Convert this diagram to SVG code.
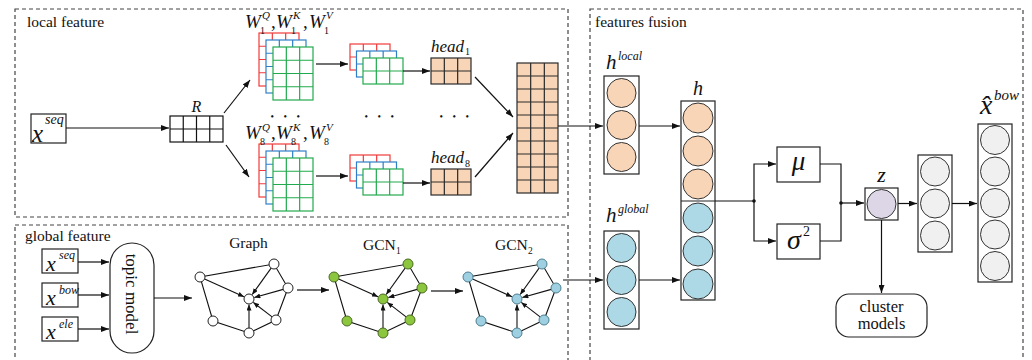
<svg xmlns="http://www.w3.org/2000/svg" xmlns:xlink="http://www.w3.org/1999/xlink" width="1032" height="360" viewBox="0 0 1032 360">
  <style>
    text { font-family: "Liberation Serif", "Times New Roman", serif; fill: #111; }
    .it { font-style: italic; }
    .panel { fill: none; stroke: #444; stroke-width: 1.2; stroke-dasharray: 4 3; }
    .box { fill: #fff; stroke: #222; stroke-width: 1.2; }
    .conn { fill: none; stroke: #111; stroke-width: 1.2; }
    .lr { fill: #fff; stroke: #f23a3a; stroke-width: 1.2; }
    .lb { fill: #fff; stroke: #2f7fc8; stroke-width: 1.2; }
    .lg { fill: #fff; stroke: #22aa4e; stroke-width: 1.2; }
    .peach { fill: #f8d5b6; stroke: #2a2a2a; stroke-width: 1.2; }
    .grid { fill: #fff; stroke: #111; stroke-width: 1.2; }
    .c-or { fill: #f9d5b7; stroke: #333; stroke-width: 1; }
    .c-bl { fill: #add8e6; stroke: #333; stroke-width: 1; }
    .c-gr { fill: #f0f0f0; stroke: #333; stroke-width: 1; }
    .c-z { fill: #dcd6e6; stroke: #333; stroke-width: 1; }
    .gedge { stroke: #111; stroke-width: 1.1; fill: none; }
    .n0 { fill: #fff; stroke: #222; stroke-width: 1; }
    .n1 { fill: #8cc63f; stroke: #4a6a22; stroke-width: 1; }
    .n2 { fill: #9fd0e2; stroke: #4b7e90; stroke-width: 1; }
    .dots { font-size: 10px; letter-spacing: 3.5px; }
  </style>
  <defs>
    <marker id="ah" viewBox="0 0 8 6" refX="8" refY="3" markerWidth="8" markerHeight="6" orient="auto" markerUnits="userSpaceOnUse">
      <path d="M0,0 L8,3 L0,6 z" fill="#111"/>
    </marker>
    <marker id="ahs" viewBox="0 0 6 5" refX="6" refY="2.5" markerWidth="6" markerHeight="5" orient="auto" markerUnits="userSpaceOnUse">
      <path d="M0,0 L6,2.5 L0,5 z" fill="#111"/>
    </marker>
    <!-- 3x4 weight layer -->
    <g id="g34">
      <rect width="40" height="53"/>
      <path fill="none" d="M13.33 0V53M26.67 0V53M0 13.25H40M0 26.5H40M0 39.75H40"/>
    </g>
    <!-- 3x2 layer -->
    <g id="g32">
      <rect width="40" height="26"/>
      <path fill="none" d="M13.33 0V26M26.67 0V26M0 13H40"/>
    </g>
    <!-- graph edges (shared by the three graphs) -->
    <g id="gedges">
      <path class="gedge" d="M200,277 L274,264 L288,288 L276,320 L249,333 L213,321 Z"/>
      <line class="gedge" x1="204.6" y1="279" x2="244" y2="296.7" marker-end="url(#ahs)"/>
      <line class="gedge" x1="271.1" y1="268.1" x2="252.2" y2="294.5" marker-end="url(#ahs)"/>
      <line class="gedge" x1="283.2" y1="289.4" x2="254.3" y2="297.5" marker-end="url(#ahs)"/>
      <line class="gedge" x1="272.1" y1="316.9" x2="253.3" y2="302.4" marker-end="url(#ahs)"/>
      <line class="gedge" x1="249" y1="328" x2="249" y2="304.5" marker-end="url(#ahs)"/>
    </g>
    <g id="gnodes">
      <circle cx="200" cy="277" r="5"/>
      <circle cx="274" cy="264" r="5"/>
      <circle cx="288" cy="288" r="5"/>
      <circle cx="249" cy="299" r="5"/>
      <circle cx="276" cy="320" r="5"/>
      <circle cx="249" cy="333" r="5"/>
      <circle cx="213" cy="321" r="5"/>
    </g>
  </defs>

  <rect width="1032" height="360" fill="#fff"/>

  <!-- panels -->
  <g id="panels">
    <rect class="panel" x="15" y="9" width="553" height="208"/>
    <rect class="panel" x="15" y="225" width="553" height="150"/>
    <rect class="panel" x="590" y="9" width="433" height="366"/>
    <text x="27" y="27" font-size="15.5">local feature</text>
    <text x="25" y="241" font-size="15.5">global feature</text>
    <text x="595" y="27" font-size="15.5">features fusion</text>
  </g>

  <!-- local feature branch -->
  <g id="x-seq-local">
    <rect class="box" x="31" y="114" width="35" height="29"/>
    <text class="it" x="32" y="142" font-size="25">x</text>
    <text class="it" x="45" y="124" font-size="14">seq</text>
  </g>
  <g id="embedding-R">
    <rect class="grid" x="170" y="116" width="53" height="26"/>
    <path fill="none" stroke="#111" stroke-width="1.2" d="M183.25 116V142M196.5 116V142M209.75 116V142M170 129H223"/>
    <text class="it" x="196.5" y="112" font-size="16" text-anchor="middle">R</text>
  </g>
  <g id="wqkv-1">
    <use xlink:href="#g34" class="lr" x="259" y="33"/>
    <use xlink:href="#g34" class="lb" x="266" y="40"/>
    <use xlink:href="#g34" class="lg" x="273" y="47"/>
    <text class="it" x="245" y="28" font-size="19">W</text>
    <text x="260" y="34" font-size="10">1</text>
    <text class="it" x="262" y="19" font-size="11">Q</text>
    <text x="271" y="28" font-size="19">,</text>
    <text class="it" x="276" y="28" font-size="19">W</text>
    <text x="291" y="34" font-size="10">1</text>
    <text class="it" x="293" y="19" font-size="11">K</text>
    <text x="303" y="28" font-size="19">,</text>
    <text class="it" x="309" y="28" font-size="19">W</text>
    <text x="324" y="34" font-size="10">1</text>
    <text class="it" x="326" y="19" font-size="11">V</text>
  </g>
  <g id="wqkv-8">
    <use xlink:href="#g34" class="lr" x="259" y="144"/>
    <use xlink:href="#g34" class="lb" x="266" y="151"/>
    <use xlink:href="#g34" class="lg" x="273" y="158"/>
    <text class="it" x="245" y="139" font-size="19">W</text>
    <text x="260" y="145" font-size="10">8</text>
    <text class="it" x="262" y="131" font-size="11">Q</text>
    <text x="271" y="139" font-size="19">,</text>
    <text class="it" x="276" y="139" font-size="19">W</text>
    <text x="291" y="145" font-size="10">8</text>
    <text class="it" x="293" y="131" font-size="11">K</text>
    <text x="303" y="139" font-size="19">,</text>
    <text class="it" x="309" y="139" font-size="19">W</text>
    <text x="324" y="145" font-size="10">8</text>
    <text class="it" x="326" y="131" font-size="11">V</text>
  </g>
  <g id="attn-1">
    <use xlink:href="#g32" class="lr" x="350" y="44"/>
    <use xlink:href="#g32" class="lb" x="356.5" y="51"/>
    <use xlink:href="#g32" class="lg" x="363" y="58"/>
  </g>
  <g id="attn-8">
    <use xlink:href="#g32" class="lr" x="350" y="155"/>
    <use xlink:href="#g32" class="lb" x="356.5" y="162"/>
    <use xlink:href="#g32" class="lg" x="363" y="169"/>
  </g>
  <g id="head-1">
    <use xlink:href="#g32" class="peach" x="431" y="58"/>
    <text class="it" x="431" y="52" font-size="17">head</text>
    <text x="465" y="55" font-size="10">1</text>
  </g>
  <g id="head-8">
    <use xlink:href="#g32" class="peach" x="431" y="169"/>
    <text class="it" x="431" y="163" font-size="17">head</text>
    <text x="465" y="167" font-size="10">8</text>
  </g>
  <g id="ellipses">
    <text class="dots" x="270.5" y="120">• • •</text>
    <text class="dots" x="364.5" y="120">• • •</text>
    <text class="dots" x="439.5" y="120">• • •</text>
  </g>
  <g id="concat">
    <rect class="peach" x="517" y="63" width="41" height="130"/>
    <path fill="none" stroke="#2a2a2a" stroke-width="1.2" d="M530.67 63V193M544.33 63V193M517 76H558M517 89H558M517 102H558M517 115H558M517 128H558M517 141H558M517 154H558M517 167H558M517 180H558"/>
  </g>

  <!-- global feature branch -->
  <g id="x-seq">
    <rect class="box" x="42" y="249" width="36" height="24"/>
    <text class="it" x="46" y="271" font-size="22">x</text>
    <text class="it" x="59" y="259" font-size="12">seq</text>
  </g>
  <g id="x-bow">
    <rect class="box" x="42" y="283" width="36" height="24"/>
    <text class="it" x="46" y="305" font-size="22">x</text>
    <text class="it" x="59" y="294" font-size="12">bow</text>
  </g>
  <g id="x-ele">
    <rect class="box" x="42" y="317" width="36" height="24"/>
    <text class="it" x="46" y="339" font-size="22">x</text>
    <text class="it" x="59" y="328" font-size="12">ele</text>
  </g>
  <g id="topic-model">
    <rect class="box" x="110" y="243" width="44" height="110" rx="22" ry="22"/>
    <text x="0" y="0" font-size="17" text-anchor="middle" transform="translate(126,294) rotate(90)">topic model</text>
  </g>
  <g id="graph">
    <use xlink:href="#gedges"/>
    <use xlink:href="#gnodes" class="n0"/>
    <text x="248.5" y="248" font-size="15.5" text-anchor="middle">Graph</text>
  </g>
  <g id="gcn-1">
    <use xlink:href="#gedges" x="134"/>
    <use xlink:href="#gnodes" class="n1" x="134"/>
    <text x="363" y="250" font-size="15.5">GCN</text>
    <text x="396" y="254" font-size="9.5">1</text>
  </g>
  <g id="gcn-2">
    <use xlink:href="#gedges" x="268"/>
    <use xlink:href="#gnodes" class="n2" x="268"/>
    <text x="495" y="250" font-size="15.5">GCN</text>
    <text x="528" y="254" font-size="9.5">2</text>
  </g>

  <!-- features fusion -->
  <g id="h-local">
    <rect class="box" x="604" y="76" width="35" height="98"/>
    <circle class="c-or" cx="621.5" cy="93" r="14.5"/>
    <circle class="c-or" cx="621.5" cy="125" r="14.5"/>
    <circle class="c-or" cx="621.5" cy="157" r="14.5"/>
    <text class="it" x="606" y="69" font-size="21">h</text>
    <text class="it" x="618" y="60" font-size="12">local</text>
  </g>
  <g id="h-global">
    <rect class="box" x="604" y="231" width="35" height="98"/>
    <circle class="c-bl" cx="621.5" cy="248" r="14.5"/>
    <circle class="c-bl" cx="621.5" cy="280" r="14.5"/>
    <circle class="c-bl" cx="621.5" cy="312" r="14.5"/>
    <text class="it" x="606" y="222" font-size="21">h</text>
    <text class="it" x="618" y="213" font-size="12">global</text>
  </g>
  <g id="h">
    <rect class="box" x="681" y="101" width="34" height="199"/>
    <line x1="681" y1="201" x2="715" y2="201" stroke="#222" stroke-width="1.2"/>
    <circle class="c-or" cx="698" cy="118" r="15"/>
    <circle class="c-or" cx="698" cy="151" r="15"/>
    <circle class="c-or" cx="698" cy="184" r="15"/>
    <circle class="c-bl" cx="698" cy="218" r="15"/>
    <circle class="c-bl" cx="698" cy="251" r="15"/>
    <circle class="c-bl" cx="698" cy="284" r="15"/>
    <text class="it" x="698" y="95" font-size="20" text-anchor="middle">h</text>
  </g>
  <g id="mu">
    <rect class="box" x="777" y="147" width="43" height="35"/>
    <text class="it" x="798.5" y="170" font-size="27" text-anchor="middle">μ</text>
  </g>
  <g id="sigma">
    <rect class="box" x="777" y="224" width="43" height="35"/>
    <text class="it" x="794" y="249" font-size="28" text-anchor="middle">σ</text>
    <text x="803" y="236" font-size="14">2</text>
  </g>
  <g id="z">
    <rect class="box" x="865" y="188" width="33" height="32"/>
    <circle class="c-z" cx="881.5" cy="204" r="14.5"/>
    <text class="it" x="881.5" y="182" font-size="22" text-anchor="middle">z</text>
  </g>
  <g id="decoder-hidden">
    <rect class="box" x="918" y="155" width="34" height="97"/>
    <circle class="c-gr" cx="935" cy="171.5" r="14.5"/>
    <circle class="c-gr" cx="935" cy="203.5" r="14.5"/>
    <circle class="c-gr" cx="935" cy="235.5" r="14.5"/>
  </g>
  <g id="x-bow-hat">
    <rect class="box" x="978" y="124" width="34" height="158"/>
    <circle class="c-gr" cx="995" cy="140" r="14.5"/>
    <circle class="c-gr" cx="995" cy="171.5" r="14.5"/>
    <circle class="c-gr" cx="995" cy="203" r="14.5"/>
    <circle class="c-gr" cx="995" cy="234.5" r="14.5"/>
    <circle class="c-gr" cx="995" cy="266" r="14.5"/>
    <text class="it" x="980" y="114" font-size="28">x&#770;</text>
    <text class="it" x="994" y="100" font-size="15">bow</text>
  </g>
  <g id="cluster-models">
    <rect class="box" x="836" y="294" width="91" height="43" rx="13" ry="13"/>
    <text x="881.5" y="312" font-size="16.5" text-anchor="middle">cluster</text>
    <text x="881.5" y="329" font-size="16.5" text-anchor="middle">models</text>
  </g>

  <!-- connectors -->
  <g id="connectors" class="conn">
    <line x1="66" y1="128" x2="169" y2="128" marker-end="url(#ah)"/>
    <line x1="224" y1="113" x2="250" y2="80" marker-end="url(#ah)"/>
    <line x1="226" y1="145" x2="249" y2="177" marker-end="url(#ah)"/>
    <line x1="316" y1="64" x2="348" y2="64" marker-end="url(#ah)"/>
    <line x1="316" y1="176" x2="348" y2="176" marker-end="url(#ah)"/>
    <line x1="403" y1="71" x2="430" y2="71" marker-end="url(#ah)"/>
    <line x1="403" y1="183" x2="430" y2="183" marker-end="url(#ah)"/>
    <line x1="475" y1="77" x2="513" y2="117" marker-end="url(#ah)"/>
    <line x1="475" y1="177" x2="513" y2="133" marker-end="url(#ah)"/>
    <line x1="558" y1="126" x2="603" y2="126" marker-end="url(#ah)"/>
    <line x1="639" y1="126" x2="680" y2="126" marker-end="url(#ah)"/>
    <line x1="639" y1="280" x2="680" y2="280" marker-end="url(#ah)"/>
    <line x1="715" y1="201" x2="754" y2="201"/>
    <path d="M754,201 V164 H776" marker-end="url(#ah)"/>
    <path d="M754,201 V241 H776" marker-end="url(#ah)"/>
    <path d="M820,164 H841 V241 H820"/>
    <line x1="841" y1="203" x2="864" y2="203" marker-end="url(#ah)"/>
    <line x1="881.5" y1="220" x2="881.5" y2="293" marker-end="url(#ah)"/>
    <line x1="898" y1="203.5" x2="917" y2="203.5" marker-end="url(#ah)"/>
    <line x1="952" y1="203.5" x2="977" y2="203.5" marker-end="url(#ah)"/>
    <line x1="78" y1="262" x2="109" y2="262" marker-end="url(#ah)"/>
    <line x1="78" y1="295" x2="109" y2="295" marker-end="url(#ah)"/>
    <line x1="78" y1="329" x2="109" y2="329" marker-end="url(#ah)"/>
    <line x1="154" y1="298" x2="192" y2="298" marker-end="url(#ah)"/>
    <line x1="297" y1="290" x2="329" y2="290" marker-end="url(#ah)"/>
    <line x1="431" y1="291" x2="463" y2="291" marker-end="url(#ah)"/>
    <line x1="563" y1="280" x2="603" y2="280" marker-end="url(#ah)"/>
    <circle cx="754" cy="201" r="1.8" fill="#111" stroke="none"/>
    <circle cx="841" cy="203" r="1.8" fill="#111" stroke="none"/>
  </g>
</svg>
